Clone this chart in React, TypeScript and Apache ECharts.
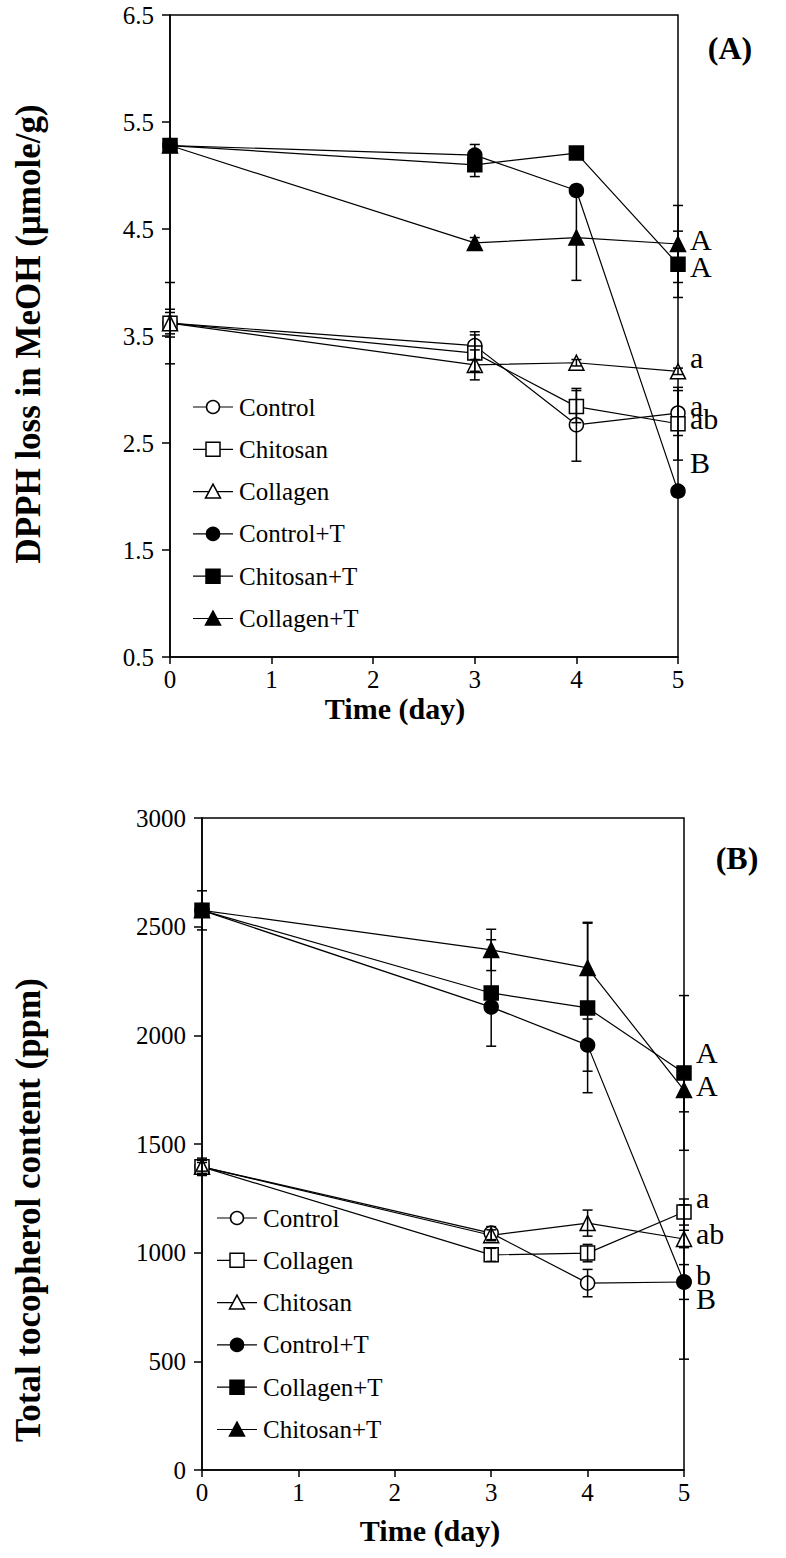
import React, { useEffect, useRef } from "react";
import * as echarts from "echarts";

const days = [0, 3, 4, 5];
const xTicks = [0, 1, 2, 3, 4, 5];

// Panel A: DPPH loss in MeOH (µmole/g)
const dpphNames = ["Control", "Chitosan", "Collagen", "Control+T", "Chitosan+T", "Collagen+T"];
const dpphControl = [3.62, 3.41, 2.67, 2.78];
const dpphChitosan = [3.62, 3.34, 2.84, 2.68];
const dpphCollagen = [3.62, 3.23, 3.25, 3.17];
const dpphControlT = [5.28, 5.19, 4.86, 2.05];
const dpphChitosanT = [5.28, 5.1, 5.21, 4.17];
const dpphCollagenT = [5.28, 4.37, 4.42, 4.36];
const dpphControlSD = [0.13, 0.13, 0.34, 0.21];
const dpphChitosanSD = [0.38, 0.17, 0.15, 0.34];
const dpphCollagenSD = [0.1, 0.14, 0.03, 0.03];
const dpphControlTSD = [0.05, 0.1, 0.05, 0.05];
const dpphChitosanTSD = [0.05, 0.11, 0.05, 0.31];
const dpphCollagenTSD = [0.05, 0.05, 0.4, 0.36];
const dpphLetters = ["A", "A", "a", "a", "ab", "B"];
const dpphLetterY = [4.4, 4.15, 3.3, 2.85, 2.73, 2.32];

// Panel B: Total tocopherol content (ppm)
const tocoNames = ["Control", "Collagen", "Chitosan", "Control+T", "Collagen+T", "Chitosan+T"];
const tocoControl = [1395, 1090, 860, 865];
const tocoCollagen = [1395, 990, 998, 1187];
const tocoChitosan = [1395, 1080, 1136, 1063];
const tocoControlT = [2575, 2130, 1955, 865];
const tocoCollagenT = [2575, 2195, 2126, 1827];
const tocoChitosanT = [2575, 2393, 2310, 1748];
const tocoControlSD = [40, 30, 63, 80];
const tocoCollagenSD = [30, 30, 40, 60];
const tocoChitosanSD = [20, 25, 60, 40];
const tocoControlTSD = [20, 20, 120, 355];
const tocoCollagenTSD = [90, 245, 390, 356];
const tocoChitosanTSD = [20, 95, 210, 100];
const tocoLetters = ["A", "A", "a", "ab", "b", "B"];
const tocoLetterY = [1923, 1771, 1255, 1090, 900, 790];

const FONT = "'Liberation Serif', 'Times New Roman', serif";
const symbols = ["circle", "rect", "triangle", "circle", "rect", "triangle"];
const filled = [false, false, false, true, true, true];

export default function App() {
  const ref = useRef<HTMLDivElement>(null);
  useEffect(() => {
    if (!ref.current) return;
    const chart = echarts.init(ref.current, null, { renderer: "svg" });

    const dpphVals = [dpphControl, dpphChitosan, dpphCollagen, dpphControlT, dpphChitosanT, dpphCollagenT];
    const dpphSD = [dpphControlSD, dpphChitosanSD, dpphCollagenSD, dpphControlTSD, dpphChitosanTSD, dpphCollagenTSD];
    const tocoVals = [tocoControl, tocoCollagen, tocoChitosan, tocoControlT, tocoCollagenT, tocoChitosanT];
    const tocoSD = [tocoControlSD, tocoCollagenSD, tocoChitosanSD, tocoControlTSD, tocoCollagenTSD, tocoChitosanTSD];

    const lineSeries = (names: string[], vals: number[][], gi: number) =>
      names.map((n, i) => ({
        type: "line",
        name: n,
        xAxisIndex: gi,
        yAxisIndex: gi,
        data: days.map((d, k) => [d, vals[i][k]]),
        symbol: symbols[i],
        symbolSize: symbols[i] === "triangle" ? 15 : 14,
        showSymbol: true,
        lineStyle: { color: "#000", width: 1.2 },
        itemStyle: { color: filled[i] ? "#000" : "#fff", borderColor: "#000", borderWidth: 1.5 },
        z: 3,
        silent: true,
      }));

    const errSeries = (vals: number[][], sds: number[][], gi: number) =>
      vals.map((v, i) => ({
        type: "custom",
        xAxisIndex: gi,
        yAxisIndex: gi,
        data: days.map((d, k) => [d, v[k], sds[i][k]]),
        encode: { x: 0, y: 1 },
        z: 4,
        silent: true,
        renderItem: (params: any, api: any) => {
          const x = api.value(0);
          const y = api.value(1);
          const e = api.value(2);
          const hi = api.coord([x, y + e]);
          const lo = api.coord([x, y - e]);
          const w = 5;
          const st = { stroke: "#000", lineWidth: 1.5 };
          return {
            type: "group",
            children: [
              { type: "line", shape: { x1: hi[0], y1: hi[1], x2: lo[0], y2: lo[1] }, style: st },
              { type: "line", shape: { x1: hi[0] - w, y1: hi[1], x2: hi[0] + w, y2: hi[1] }, style: st },
              { type: "line", shape: { x1: lo[0] - w, y1: lo[1], x2: lo[0] + w, y2: lo[1] }, style: st },
            ],
          };
        },
      }));

    const letterSeries = (letters: string[], ys: number[], gi: number) => ({
      type: "scatter",
      xAxisIndex: gi,
      yAxisIndex: gi,
      symbolSize: 0,
      silent: true,
      itemStyle: { opacity: 1, color: "#000" },
      data: letters.map((l, i) => [5, ys[i], l]),
      label: {
        show: true,
        position: "right",
        distance: 12,
        formatter: (p: any) => p.data[2],
        fontFamily: FONT,
        fontSize: 30,
        color: "#000",
        opacity: 1,
      },
      z: 5,
    });

    const xAxis = (gi: number) => ({
      type: "value",
      gridIndex: gi,
      min: 0,
      max: 5,
      interval: 1,
      data: xTicks,
      axisLine: { lineStyle: { color: "#000", width: 1.5 } },
      axisTick: { inside: false, length: 7, lineStyle: { color: "#000", width: 1.5 } },
      axisLabel: { color: "#000", fontFamily: FONT, fontSize: 25, margin: 10 },
      splitLine: { show: false },
    });

    const yAxisCommon = {
      axisLine: { show: true, lineStyle: { color: "#000", width: 1.5 } },
      axisTick: { show: true, inside: false, length: 8, lineStyle: { color: "#000", width: 1.5 } },
      splitLine: { show: false },
    };

    const legendGraphic = (names: string[], x0: number, y0: number, gap: number) => {
      const els: any[] = [];
      names.forEach((n, i) => {
        const y = y0 + i * gap;
        const cx = x0 + 20;
        els.push({ type: "line", shape: { x1: x0, y1: y, x2: x0 + 40, y2: y }, style: { stroke: "#000", lineWidth: 1.2 } });
        const fill = filled[i] ? "#000" : "#fff";
        const st = { fill, stroke: "#000", lineWidth: 1.5 };
        if (symbols[i] === "circle") els.push({ type: "circle", shape: { cx, cy: y, r: 6.5 }, style: st });
        else if (symbols[i] === "rect") els.push({ type: "rect", shape: { x: cx - 7, y: y - 7, width: 14, height: 14 }, style: st });
        else els.push({ type: "polygon", shape: { points: [[cx, y - 7.5], [cx + 7.5, y + 6.5], [cx - 7.5, y + 6.5]] }, style: st });
        els.push({
          type: "text",
          x: x0 + 46,
          y,
          style: { text: n, fontFamily: FONT, fontSize: 25, fill: "#000", verticalAlign: "middle", align: "left" },
        });
      });
      return els;
    };

    const titleStyle = (text: string, size: number) => ({
      text,
      fontFamily: FONT,
      fontSize: size,
      fontWeight: "bold",
      fill: "#000",
      align: "center",
      verticalAlign: "middle",
    });

    const option: any = {
      animation: false,
      backgroundColor: "#fff",
      grid: [
        { left: 170, top: 15, width: 508, height: 642, show: true, borderColor: "#000", borderWidth: 1.5, backgroundColor: "transparent" },
        { left: 202, top: 818, width: 482, height: 652, show: true, borderColor: "#000", borderWidth: 1.5, backgroundColor: "transparent" },
      ],
      xAxis: [xAxis(0), xAxis(1)],
      yAxis: [
        {
          type: "value",
          gridIndex: 0,
          min: 0.5,
          max: 6.5,
          interval: 1,
          ...yAxisCommon,
          axisLabel: { color: "#000", fontFamily: FONT, fontSize: 25, margin: 16, formatter: (v: number) => v.toFixed(1) },
        },
        {
          type: "value",
          gridIndex: 1,
          min: 0,
          max: 3000,
          interval: 500,
          ...yAxisCommon,
          axisLabel: { color: "#000", fontFamily: FONT, fontSize: 25, margin: 16, formatter: (v: number) => String(v) },
        },
      ],
      series: [
        ...lineSeries(dpphNames, dpphVals, 0),
        ...errSeries(dpphVals, dpphSD, 0),
        letterSeries(dpphLetters, dpphLetterY, 0),
        ...lineSeries(tocoNames, tocoVals, 1),
        ...errSeries(tocoVals, tocoSD, 1),
        letterSeries(tocoLetters, tocoLetterY, 1),
      ],
      graphic: [
        ...legendGraphic(dpphNames, 193, 407, 42.3),
        ...legendGraphic(tocoNames, 217, 1218, 42.3),
        { type: "text", x: 730, y: 48, style: titleStyle("(A)", 32) },
        { type: "text", x: 737, y: 858, style: titleStyle("(B)", 32) },
        { type: "text", x: 395, y: 708, style: titleStyle("Time (day)", 30) },
        { type: "text", x: 430, y: 1530, style: titleStyle("Time (day)", 30) },
        { type: "text", x: 28, y: 334, rotation: Math.PI / 2, style: titleStyle("DPPH loss in MeOH (μmole/g)", 35) },
        { type: "text", x: 28, y: 1210, rotation: Math.PI / 2, style: titleStyle("Total tocopherol content (ppm)", 35) },
      ],
    };
    chart.setOption(option);
    return () => chart.dispose();
  }, []);
  return <div ref={ref} style={{ position: "absolute", left: 0, top: 0, width: 786, height: 1558 }} />;
}
